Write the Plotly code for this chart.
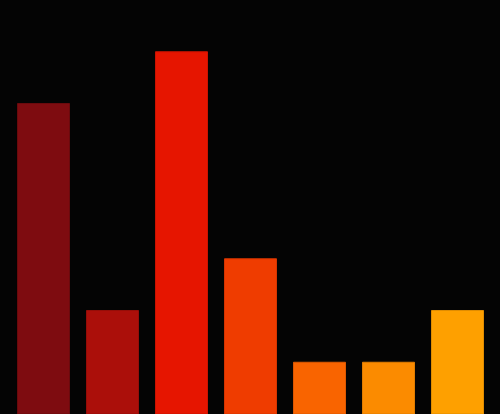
import plotly.graph_objects as go

categories = ["A", "B", "C", "D", "E", "F", "G"]
values = [6, 2, 7, 3, 1, 1, 2]
colors = ["#7e0c10", "#ab0f0a", "#e61500", "#ef3c00", "#f96400", "#fb8b00", "#fea000"]
edge_colors = ["#6a0a0d", "#960d08", "#cc1300", "#d63500", "#dd5800", "#e07c00", "#e08c00"]

fig = go.Figure(
    go.Bar(
        x=categories,
        y=values,
        marker=dict(color=colors, line=dict(color=edge_colors, width=1)),
        width=0.754,
    )
)

fig.update_layout(
    width=500,
    height=414,
    margin=dict(l=9, r=8, t=0, b=0),
    paper_bgcolor="#040404",
    plot_bgcolor="#040404",
    showlegend=False,
    xaxis=dict(visible=False, range=[-0.5, 6.5]),
    yaxis=dict(visible=False, range=[0, 8]),
)

# drop the page's default body margin so the chart fills the window
fig.write_html(
    "out.html",
    config={"displayModeBar": False},
    post_script="document.body.style.margin='0';document.body.style.background='#040404';",
)
